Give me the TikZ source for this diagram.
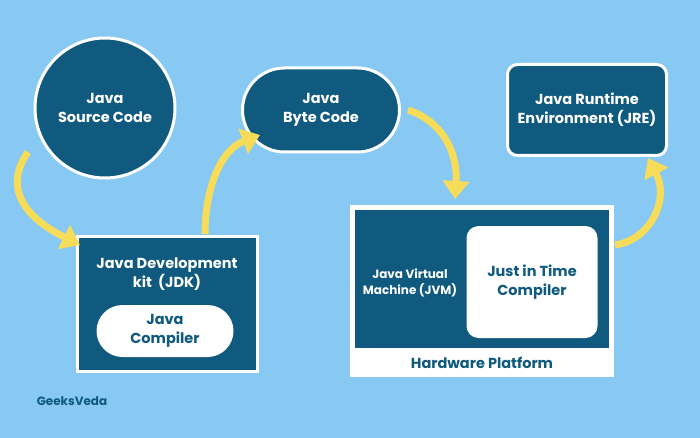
\documentclass[tikz,border=0pt]{standalone}
\usepackage{fontspec}
\setmainfont{Poppins}
\usetikzlibrary{arrows.meta}
\definecolor{bg}{HTML}{87C9F2}
\definecolor{dk}{HTML}{0F5A7E}
\definecolor{yl}{HTML}{F7DC5A}
\tikzset{
 dkbox/.style={fill=dk,draw=white,line width=3pt,text=white,font=\fontsize{14.5}{19}\selectfont\bfseries,align=center},
 wtbox/.style={fill=white,text=dk,font=\fontsize{14.5}{19}\selectfont\bfseries,align=center},
 yarrow/.style={draw=yl,line width=7pt,-{Triangle[length=18pt,width=26pt]}}
}
\begin{document}
\begin{tikzpicture}[x=1pt,y=-1pt]
\fill[bg] (0,0) rectangle (700,438);
\useasboundingbox (0,0) rectangle (700,438);
\node[dkbox,circle,minimum size=140pt,inner sep=0pt] (src) at (105,108) {Java\\Source Code};
\node[dkbox,rounded corners=42pt,minimum width=157pt,minimum height=84pt] (byte) at (321,110) {Java\\Byte Code};
\node[dkbox,rounded corners=10pt,minimum width=159pt,minimum height=91pt] (jre) at (587,110) {Java Runtime\\Environment (JRE)};
\node[dkbox,minimum width=180pt,minimum height=135pt] (jdk) at (167,304) {};
\node[text=white,font=\fontsize{14.5}{19}\selectfont\bfseries,align=center] (jdkt) at (167,274) {Java Development\\kit\ \ (JDK)};
\node[wtbox,rounded corners=26pt,minimum width=137pt,minimum height=52pt] (comp) at (165,331) {Java\\Compiler};
\node[fill=white,minimum width=264pt,minimum height=172pt,inner sep=0pt] (hw) at (482,291) {};
\node[fill=dk,minimum width=254pt,minimum height=138pt,inner sep=0pt] (jvm) at (482,279) {};
\node[text=dk,font=\fontsize{14.5}{19}\selectfont\bfseries] (hwt) at (482,363) {Hardware Platform};
\node[text=white,font=\fontsize{12}{16}\selectfont\bfseries,align=center] (jvmt) at (410,283) {Java Virtual\\Machine (JVM)};
\node[wtbox,rounded corners=12pt,minimum width=131pt,minimum height=112pt] (jit) at (532,282) {Just in Time\\Compiler};
\node[text=dk,font=\fontsize{12}{14}\selectfont\bfseries] (gv) at (72,401) {GeeksVeda};
\coordinate (a1) at (28,152); \coordinate (b1) at (80,245);
\draw[yarrow] (a1) .. controls (5,185) and (20,215) .. (b1);
\coordinate (a2) at (205,234); \coordinate (b2) at (260,135);
\draw[yarrow] (a2) .. controls (205,190) and (220,150) .. (b2);
\coordinate (a3) at (408,110); \coordinate (b3) at (455,199);
\draw[yarrow] (a3) .. controls (440,120) and (458,150) .. (b3);
\coordinate (a4) at (615,245); \coordinate (b4) at (648,158);
\draw[yarrow] (a4) .. controls (650,240) and (670,200) .. (b4);
\end{tikzpicture}
\end{document}
